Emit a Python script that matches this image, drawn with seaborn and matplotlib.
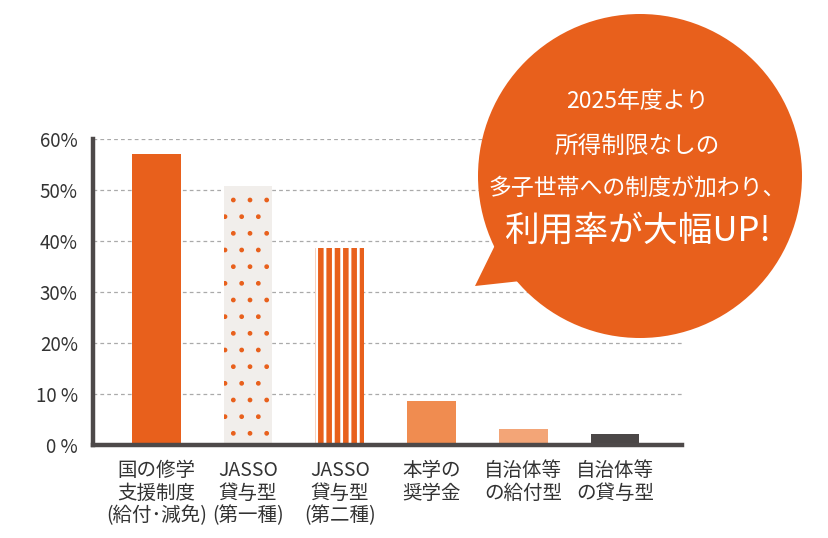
import matplotlib
matplotlib.use('Agg')
import matplotlib.pyplot as plt
import seaborn as sns
from matplotlib.patches import Circle, Polygon

# データ
categories = ['国の修学\n支援制度\n(給付･減免)',
              'JASSO\n貸与型\n(第一種)',
              'JASSO\n貸与型\n(第二種)',
              '本学の\n奨学金',
              '自治体等\nの給付型',
              '自治体等\nの貸与型']
rates = [57.0, 50.8, 38.6, 8.7, 3.1, 2.1]
bar_colors = ['#E8601C', '#F1EEEB', '#FFFFFF', '#F08C50', '#F3A577', '#4B4747']
y_ticks = [0, 10, 20, 30, 40, 50, 60]
y_ticklabels = ['0 %', '10 %', '20%', '30%', '40%', '50%', '60%']
bubble_lines = ['2025年度より', '所得制限なしの', '多子世帯への制度が加わり、', '利用率が大幅UP!']

ORANGE = '#E8601C'
AXIS = '#4D4949'

sns.set_style('white')
plt.rcParams['font.family'] = ['Noto Sans CJK JP', 'DejaVu Sans']
plt.rcParams['axes.unicode_minus'] = False
plt.rcParams['hatch.linewidth'] = 4.0

fig = plt.figure(figsize=(8.29, 5.38), dpi=100)
ax = fig.add_axes([0.1122, 0.1729, 0.7105, 0.5687])

sns.barplot(x=list(range(len(rates))), y=rates, hue=list(range(len(rates))),
            palette=bar_colors, legend=False, width=0.53, saturation=1,
            ax=ax, zorder=3)

# 日本学生支援機構の2本は模様付き（ドット / 縦ストライプ）
patterns = {1: ('.', 1.0), 2: ('||', 4.0)}
for i, bar in enumerate(ax.patches):
    bar.set_linewidth(0)
    if i in patterns:
        hatch, lw = patterns[i]
        bar.set_edgecolor(ORANGE)
        bar.set_hatch(hatch)
        if hasattr(bar, 'set_hatch_linewidth'):
            bar.set_hatch_linewidth(lw)

ax.set_xlim(-0.69, 5.73)
ax.set_ylim(0, 60)
ax.set_yticks(y_ticks)
ax.set_yticklabels(y_ticklabels)
ax.set_xticks(range(len(categories)))
ax.set_xticklabels(categories, linespacing=1.08, ha='center', multialignment='center')
ax.tick_params(axis='y', length=0, pad=11, labelsize=13.5, labelcolor='#333333')
ax.tick_params(axis='x', length=0, pad=11, labelsize=14, labelcolor='#333333')
ax.set_xlabel('')
ax.set_ylabel('')

ax.yaxis.grid(True, linestyle=(0, (3, 2.5)), color='#AAAAAA', linewidth=0.9, zorder=0)
ax.xaxis.grid(False)
for side in ['top', 'right']:
    ax.spines[side].set_visible(False)
for side in ['left', 'bottom']:
    ax.spines[side].set_color(AXIS)
    ax.spines[side].set_linewidth(3.2)
    ax.spines[side].set_zorder(4)

# 吹き出し（ピクセル座標のオーバーレイ）
ov = fig.add_axes([0, 0, 1, 1], zorder=5)
ov.set_xlim(0, 829)
ov.set_ylim(538, 0)
ov.axis('off')
ov.patch.set_alpha(0)
ov.add_patch(Circle((640, 176), 162, color=ORANGE, linewidth=0))
ov.add_patch(Polygon([(475, 286), (500, 235), (530, 280)], closed=True,
                     color=ORANGE, linewidth=0))
line_y = [101, 146, 189, 231]
line_size = [16.5, 17, 16.5, 25]
for txt, yy, fs in zip(bubble_lines, line_y, line_size):
    ov.text(637, yy, txt, color='white', fontsize=fs, ha='center', va='center')

plt.savefig('out.png', dpi=100)
plt.close()
